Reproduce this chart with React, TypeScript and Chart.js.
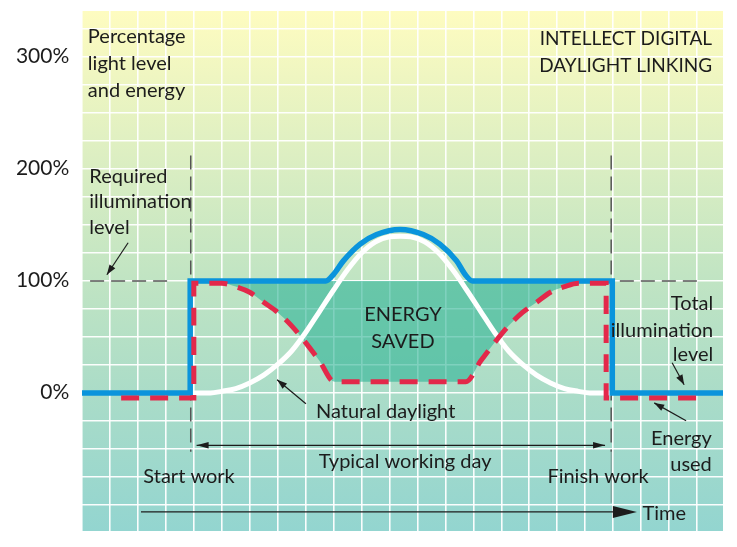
import React, { useEffect, useRef } from 'react';
import { Chart, registerables } from 'chart.js';

Chart.register(...registerables);

// ---- axis ranges (x = time in grid units, y = percentage) ----
const X_MIN = 0;
const X_MAX = 22.93;
const Y_MIN = -123.2;
const Y_MAX = 341.1;
const Y_TICK_STEP = 25;
const Y_LABELS = [0, 100, 200, 300];

const START_WORK = 3.89;
const FINISH_WORK = 18.93;
const REQUIRED_LEVEL = 100;

// ---- series ----
const daylightX = [3.9, 4.6, 5, 5.5, 6, 6.5, 7, 7.5, 8, 8.5, 9, 9.5, 10, 10.5, 11, 11.38, 11.76, 12.26, 12.76, 13.26, 13.76, 14.26, 14.76, 15.26, 15.76, 16.26, 16.76, 17.26, 17.76, 18.16, 18.92];
const daylightPct = [0, 0, 1.5, 4, 9, 16, 25.5, 37.5, 54, 73, 92, 110, 125, 135, 139.5, 140, 139.5, 135, 125, 110, 92, 73, 54, 37.5, 25.5, 16, 9, 4, 1.5, 0, 0];

const totalX = [0, 3.87, 3.87, 8.72, 9.0, 9.35, 9.95, 10.54, 11.38, 12.21, 12.8, 13.4, 13.7, 13.97, 18.97, 18.97, 22.93];
const totalPct = [0, 0, 100, 100, 106, 118, 133, 141.5, 146, 141.5, 133, 118, 106, 100, 100, 0, 0];

const energyX = [1.4, 4.0, 4.0, 5, 5.5, 6, 6.5, 7, 7.5, 8, 8.5, 9.03, 13.73, 14.26, 14.76, 15.26, 15.76, 16.26, 16.76, 17.26, 17.76, 18.75, 18.75, 22.18];
const energyPct = [-4.5, -4.5, 98, 98, 95, 90, 81, 72, 60, 45, 28.5, 10, 10, 28.5, 45, 60, 72, 81, 90, 95, 98, 98, -4.5, -4.5];

// ---- text labels [text, x, y, align, size] ----
const TEXTS: [string, number, number, CanvasTextAlign, number][] = [
  ['Percentage', 0.21, 312.5, 'left', 20],
  ['light level', 0.21, 288.7, 'left', 20],
  ['and energy', 0.21, 264.6, 'left', 20],
  ['INTELLECT DIGITAL', 22.54, 311, 'right', 19],
  ['DAYLIGHT LINKING', 22.54, 287, 'right', 19],
  ['Required', 0.26, 187.5, 'left', 20],
  ['illumination', 0.26, 165, 'left', 20],
  ['level', 0.26, 141.8, 'left', 20],
  ['ENERGY', 11.48, 64, 'center', 20],
  ['SAVED', 11.48, 40.2, 'center', 20],
  ['Natural daylight', 8.37, -22.5, 'left', 20],
  ['Typical working day', 11.56, -67, 'center', 20],
  ['Start work', 3.83, -80.4, 'center', 20],
  ['Finish work', 18.46, -80.4, 'center', 20],
  ['Time', 20.05, -113, 'left', 20],
  ['Total', 22.58, 74.4, 'right', 20],
  ['illumination', 22.58, 50, 'right', 20],
  ['level', 22.58, 28.2, 'right', 20],
  ['Energy', 22.53, -46.2, 'right', 20],
  ['used', 22.53, -70, 'right', 20],
];

// pointer arrows [tailX, tailY, headX, headY]
const POINTERS: [number, number, number, number][] = [
  [1.65, 134.2, 0.89, 105.6],
  [8.01, -9.6, 6.98, 11.9],
  [21.11, 27.1, 21.54, 7.4],
  [21.61, -24.8, 20.47, -8.8],
];
const WORKDAY_ARROW = { from: 4.1, to: 18.71, y: -46.7 };
const TIME_ARROW = { from: 2.11, to: 19.85, y: -106.2 };
const VLINE_TOP = 212;
const VLINE_BOTTOM = -52.4;
const FINISH_TAIL_BOTTOM = -98;
const REQ_LEFT = [0.29, 3.2];
const REQ_RIGHT = [19.24, 22.16];

const FONT = '"Lato", "Open Sans", sans-serif';
const INK = '#1c1c1c';

const pts = (xs: number[], ys: number[]) => xs.map((x, i) => ({ x, y: ys[i] }));

function drawHead(ctx: CanvasRenderingContext2D, x1: number, y1: number, x2: number, y2: number, len: number, half: number) {
  const a = Math.atan2(y2 - y1, x2 - x1);
  ctx.beginPath();
  ctx.moveTo(x2, y2);
  ctx.lineTo(x2 - len * Math.cos(a) + half * Math.sin(a), y2 - len * Math.sin(a) - half * Math.cos(a));
  ctx.lineTo(x2 - len * Math.cos(a) - half * Math.sin(a), y2 - len * Math.sin(a) + half * Math.cos(a));
  ctx.closePath();
  ctx.fill();
}

const bgPlugin = {
  id: 'bgGradient',
  beforeDraw(chart: any) {
    const { ctx, chartArea: a } = chart;
    const g = ctx.createLinearGradient(0, a.top, 0, a.bottom);
    g.addColorStop(0, '#fefcc0');
    g.addColorStop(0.25, '#e0f0c2');
    g.addColorStop(0.52, '#c0e4c3');
    g.addColorStop(0.74, '#aadcc8');
    g.addColorStop(1, '#93d5d0');
    ctx.save();
    ctx.fillStyle = g;
    ctx.fillRect(a.left, a.top, a.right - a.left, a.bottom - a.top);
    ctx.restore();
  },
};

const annotPlugin = {
  id: 'annot',
  beforeDatasetsDraw(chart: any) {
    const { ctx } = chart;
    const xs = chart.scales.x;
    const ys = chart.scales.y;
    ctx.save();
    ctx.strokeStyle = '#555';
    ctx.lineWidth = 1.5;
    ctx.setLineDash([14, 7]);
    const yr = ys.getPixelForValue(REQUIRED_LEVEL);
    for (const [a, b] of [REQ_LEFT, REQ_RIGHT]) {
      ctx.beginPath();
      ctx.moveTo(xs.getPixelForValue(a), yr);
      ctx.lineTo(xs.getPixelForValue(b), yr);
      ctx.stroke();
    }
    for (const v of [START_WORK, FINISH_WORK]) {
      const px = xs.getPixelForValue(v);
      ctx.beginPath();
      ctx.moveTo(px, ys.getPixelForValue(VLINE_TOP));
      ctx.lineTo(px, ys.getPixelForValue(VLINE_BOTTOM));
      ctx.stroke();
    }
    ctx.setLineDash([]);
    ctx.strokeStyle = 'rgba(90,90,90,0.55)';
    ctx.lineWidth = 1;
    const pf = xs.getPixelForValue(FINISH_WORK);
    ctx.beginPath();
    ctx.moveTo(pf, ys.getPixelForValue(VLINE_BOTTOM));
    ctx.lineTo(pf, ys.getPixelForValue(FINISH_TAIL_BOTTOM));
    ctx.stroke();
    ctx.restore();
  },
  afterDatasetsDraw(chart: any) {
    const { ctx } = chart;
    const xs = chart.scales.x;
    const ys = chart.scales.y;
    const X = (v: number) => xs.getPixelForValue(v);
    const Y = (v: number) => ys.getPixelForValue(v);
    ctx.save();
    ctx.fillStyle = INK;
    ctx.strokeStyle = INK;
    ctx.textBaseline = 'alphabetic';
    ctx.font = `21px ${FONT}`;
    ctx.textAlign = 'right';
    for (const v of Y_LABELS) {
      ctx.fillText(`${v}%`, chart.chartArea.left - 12.7, Y(v) + 5.8);
    }
    for (const [t, x, y, al, sz] of TEXTS) {
      ctx.font = `${sz}px ${FONT}`;
      ctx.textAlign = al;
      ctx.fillText(t, X(x), Y(y));
    }
    ctx.lineWidth = 1.2;
    for (const [x1, y1, x2, y2] of POINTERS) {
      ctx.beginPath();
      ctx.moveTo(X(x1), Y(y1));
      ctx.lineTo(X(x2), Y(y2));
      ctx.stroke();
      drawHead(ctx, X(x1), Y(y1), X(x2), Y(y2), 10, 3.5);
    }
    const wy = Y(WORKDAY_ARROW.y);
    ctx.beginPath();
    ctx.moveTo(X(WORKDAY_ARROW.from), wy);
    ctx.lineTo(X(WORKDAY_ARROW.to), wy);
    ctx.stroke();
    drawHead(ctx, X(WORKDAY_ARROW.to), wy, X(WORKDAY_ARROW.from), wy, 12, 3.2);
    drawHead(ctx, X(WORKDAY_ARROW.from), wy, X(WORKDAY_ARROW.to), wy, 12, 3.2);
    const ty = Y(TIME_ARROW.y);
    ctx.beginPath();
    ctx.moveTo(X(TIME_ARROW.from), ty);
    ctx.lineTo(X(TIME_ARROW.to) - 10, ty);
    ctx.stroke();
    drawHead(ctx, X(TIME_ARROW.from), ty, X(TIME_ARROW.to), ty, 24, 6);
    ctx.restore();
  },
};

export default function App() {
  const ref = useRef<HTMLCanvasElement | null>(null);
  useEffect(() => {
    if (!ref.current) return;
    const energyInDay = pts(energyX, energyPct).filter((p) => p.y > 0);
    const chart = new Chart(ref.current, {
      type: 'line',
      data: {
        datasets: [
          {
            label: 'Energy used',
            data: pts(energyX, energyPct),
            borderColor: '#e3284a',
            borderWidth: 5,
            borderDash: [18, 11],
            pointRadius: 0,
            fill: false,
            cubicInterpolationMode: 'monotone',
          },
          {
            label: 'Total illumination level',
            data: pts(totalX, totalPct),
            borderColor: '#0a94dc',
            borderWidth: 5.5,
            pointRadius: 0,
            fill: false,
            cubicInterpolationMode: 'monotone',
          },
          {
            label: 'Natural daylight',
            data: pts(daylightX, daylightPct),
            borderColor: '#ffffff',
            borderWidth: 5,
            pointRadius: 0,
            fill: false,
            cubicInterpolationMode: 'monotone',
          },
          {
            label: 'Energy saved',
            data: energyInDay,
            borderWidth: 0,
            borderColor: 'rgba(0,0,0,0)',
            backgroundColor: 'rgba(50,180,152,0.62)',
            pointRadius: 0,
            fill: { value: REQUIRED_LEVEL },
            cubicInterpolationMode: 'monotone',
          },
        ],
      },
      options: {
        animation: false,
        responsive: false,
        devicePixelRatio: 1,
        events: [],
        layout: { padding: { top: 11, right: 14, bottom: 16, left: 0 } },
        plugins: { legend: { display: false }, tooltip: { enabled: false } },
        scales: {
          x: {
            type: 'linear',
            min: X_MIN,
            max: X_MAX,
            grid: { color: 'rgba(255,255,255,0.95)', lineWidth: 1.6, drawTicks: false },
            border: { display: false },
            ticks: { display: false, stepSize: 1, includeBounds: false },
            afterFit: (s: any) => { s.height = 0; },
          },
          y: {
            type: 'linear',
            min: Y_MIN,
            max: Y_MAX,
            grid: { color: 'rgba(255,255,255,0.95)', lineWidth: 1.6, drawTicks: false },
            border: { display: false },
            ticks: { display: false, stepSize: Y_TICK_STEP, includeBounds: false },
            afterFit: (s: any) => { s.width = 82; },
          },
        },
      },
      plugins: [bgPlugin, annotPlugin],
    } as any);
    return () => chart.destroy();
  }, []);
  return (
    <div style={{ position: 'absolute', left: 0, top: 0, width: 737, height: 547, background: '#fff' }}>
      <canvas ref={ref} width={737} height={547} style={{ display: 'block' }} />
    </div>
  );
}
